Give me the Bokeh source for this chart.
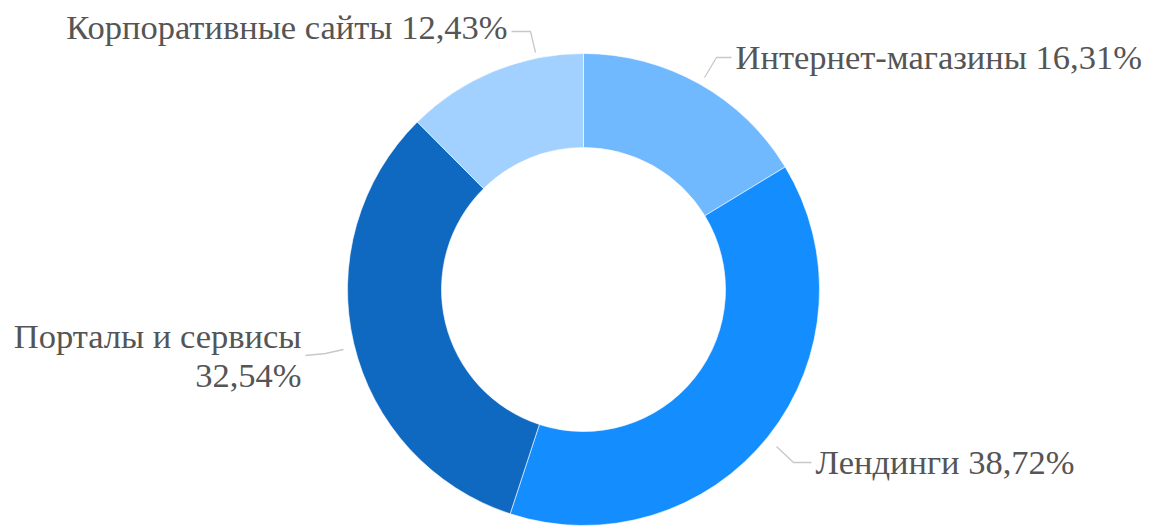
import math
from bokeh.plotting import figure
from bokeh.models import Range1d
from bokeh.core.properties import value
from bokeh.embed import file_html
from bokeh.resources import INLINE

# ---- data ----
categories = ["Интернет-магазины", "Лендинги", "Порталы и сервисы", "Корпоративные сайты"]
shares = [16.31, 38.72, 32.54, 12.43]
colors = ["#70b9ff", "#148dff", "#0f69c0", "#a3d1ff"]

W, H = 1152, 526
OFF = 0

def px(x):
    return x - OFF

def py(y):
    return (H + OFF) - y

p = figure(width=W, height=H, output_backend="svg", toolbar_location=None,
           x_range=Range1d(0, W), y_range=Range1d(0, H), min_border=0)
p.axis.visible = False
p.grid.visible = False
p.outline_line_color = None
p.background_fill_color = "white"
p.border_fill_color = "white"

cx, cy = px(583), py(289)
r_out, r_in = 236, 142

total = sum(shares)
starts, ends = [], []
acc = 0.0
for s in shares:
    starts.append(math.pi / 2 - 2 * math.pi * acc / total)
    acc += s
    ends.append(math.pi / 2 - 2 * math.pi * acc / total)

p.annular_wedge(x=[cx] * len(shares), y=[cy] * len(shares), inner_radius=r_in, outer_radius=r_out,
                start_angle=starts, end_angle=ends, direction="clock",
                fill_color=colors, line_color="white", line_width=0.6)

def fmt(v):
    return f"{v:.2f}".replace(".", ",") + "%"

# layout: label anchor (page px), alignment, leader points (page px)
layout = {
    "Интернет-магазины": dict(lines=[f"Интернет-магазины {fmt(shares[0])}"], x=735, y=[56], align="left",
                              lead=[(704, 77), (716, 57), (731, 57)]),
    "Лендинги": dict(lines=[f"Лендинги {fmt(shares[1])}"], x=815, y=[461], align="left",
                     lead=[(776, 446), (793, 462), (811, 462)]),
    "Порталы и сервисы": dict(lines=["Порталы и сервисы", fmt(shares[2])], x=301, y=[335, 374], align="right",
                              lead=[(343, 349), (325, 353), (305, 355)]),
    "Корпоративные сайты": dict(lines=[f"Корпоративные сайты {fmt(shares[3])}"], x=507, y=[26], align="right",
                                lead=[(535, 52), (530, 31), (511, 31)]),
}

FONT = value("Liberation Serif")

for cat in categories:
    L = layout[cat]
    xs = [px(a) for a, b in L["lead"]]
    ys = [py(b) for a, b in L["lead"]]
    p.line(xs, ys, line_color="#c8c8c8", line_width=1.3)
    for line, yy in zip(L["lines"], L["y"]):
        p.text(x=[px(L["x"])], y=[py(yy)], text=[line], text_align=L["align"],
               text_baseline="alphabetic", text_font=FONT,
               text_font_size="34.5px", text_color="#555555")

open("out.html", "w").write(file_html(p, INLINE))
